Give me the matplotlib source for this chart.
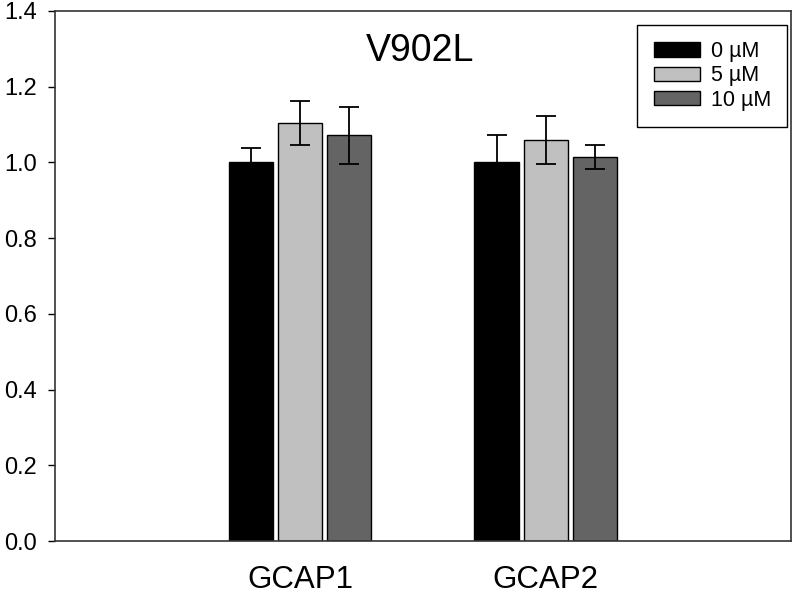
import matplotlib.pyplot as plt
import numpy as np

plt.rcParams['font.family'] = ['Liberation Sans', 'DejaVu Sans']

groups = ['GCAP1', 'GCAP2']
series = ['0 µM', '5 µM', '10 µM']
values = [[1.0, 1.0], [1.105, 1.059], [1.072, 1.015]]
errors = [[0.037, 0.072], [0.058, 0.064], [0.075, 0.032]]
colors = ['#000000', '#c0c0c0', '#646464']

fig = plt.figure(figsize=(7.93, 5.97), dpi=100)
ax = fig.add_axes([0.0694, 0.0938, 0.928, 0.8878])

x = np.arange(1, len(groups) + 1)
for i, (vals, errs) in enumerate(zip(values, errors)):
    ax.bar(x + (i - 1) * 0.2, vals, 0.18, yerr=errs, color=colors[i],
           edgecolor='black', linewidth=1, label=series[i],
           error_kw=dict(ecolor='black', elinewidth=1.3, capsize=7, capthick=1.3))

ax.set_xlim(0, 3)
ax.set_ylim(0, 1.4)
ax.set_yticks(np.arange(0, 1.41, 0.2))
ax.set_yticklabels([f'{v:.1f}' for v in np.arange(0, 1.41, 0.2)], fontsize=17)
ax.set_xticks(x)
ax.set_xticklabels(groups, fontsize=22.5)
ax.tick_params(axis='x', length=0, pad=17)
ax.tick_params(axis='y', direction='out', length=5, width=1, pad=8)
for s in ax.spines.values():
    s.set_linewidth(1.2)
    s.set_color('#333333')

ax.text(0.496, 0.925, 'V902L', transform=ax.transAxes, ha='center', va='center', fontsize=27)

leg = ax.legend(loc='upper right', bbox_to_anchor=(0.9946, 0.9736), borderaxespad=0,
                fontsize=15.5, fancybox=False, edgecolor='black', framealpha=1,
                handlelength=2.15, handleheight=0.65, handletextpad=0.5,
                borderpad=0.75, labelspacing=0.15)
leg.get_frame().set_linewidth(1)

fig.savefig('out.png', dpi=100)
